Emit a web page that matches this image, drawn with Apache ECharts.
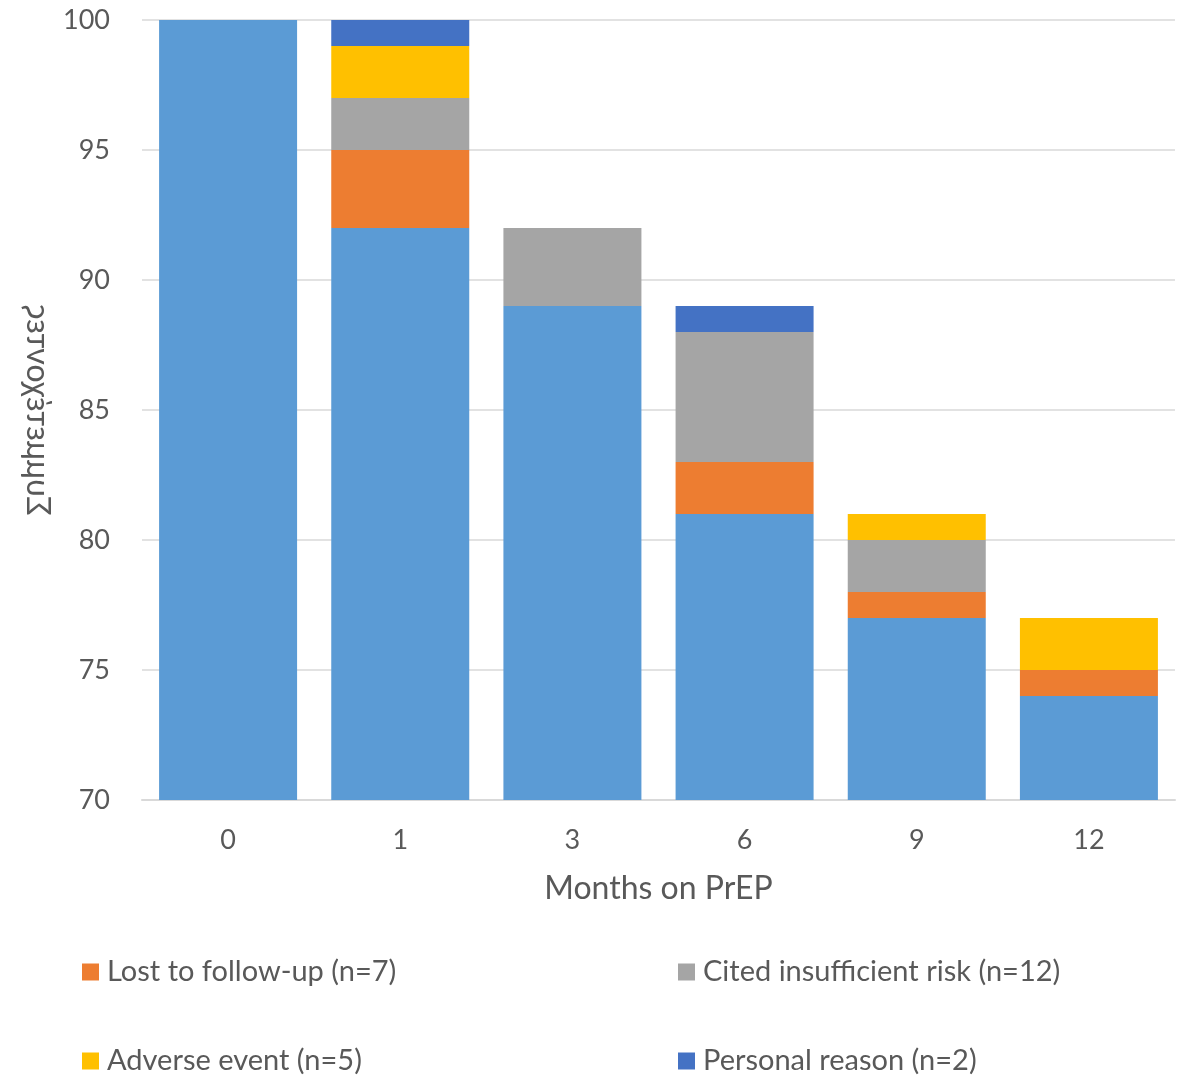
<!DOCTYPE html>
<html>
<head>
<meta charset="utf-8">
<script src="https://cdn.jsdelivr.net/npm/echarts@6/dist/echarts.min.js"></script>
<style>html,body{margin:0;padding:0;background:#fff}#c{width:1179px;height:1076px}</style>
</head>
<body>
<div id="c"></div>
<script>
const categories = ['0', '1', '3', '6', '9', '12'];
const remaining = [100, 92, 89, 81, 77, 74];
const lostToFollowUp = [0, 3, 0, 2, 1, 1];
const insufficientRisk = [0, 2, 3, 5, 2, 0];
const adverseEvent = [0, 2, 0, 0, 1, 2];
const personalReason = [0, 1, 0, 1, 0, 0];
const seriesNames = ['Lost to follow-up (n=7)', 'Cited insufficient risk (n=12)', 'Adverse event (n=5)', 'Personal reason (n=2)'];
const yTitle = 'Συμμετέχοντες';
const xTitle = 'Months on PrEP';

const FONT = 'Lato, "Open Sans", sans-serif';
const TXT = '#595959';
const colors = ['#5B9BD5', '#ED7D31', '#A5A5A5', '#FFC000', '#4472C4'];

const chart = echarts.init(document.getElementById('c'));
function legendAt(name, left, top) {
  return {
    data: [name], left: left, top: top, orient: 'horizontal',
    itemWidth: 17, itemHeight: 17, itemGap: 0, padding: 0,
    icon: 'rect', selectedMode: false,
    textStyle: { fontFamily: FONT, fontSize: 29, lineHeight: 30, color: TXT, padding: [0, 0, 0, 3] }
  };
}
const mk = (name, data, color) => ({
  name: name, type: 'bar', stack: 'total', data: data, barWidth: 138,
  itemStyle: { color: color }, emphasis: { disabled: true }
});
chart.setOption({
  animation: false,
  color: colors,
  grid: { left: 142, right: 4, top: 20, bottom: 276 },
  legend: [
    legendAt(seriesNames[0], 82, 957),
    legendAt(seriesNames[1], 678, 957),
    legendAt(seriesNames[2], 82, 1046),
    legendAt(seriesNames[3], 678, 1046)
  ],
  xAxis: {
    type: 'category', data: categories,
    axisLine: { lineStyle: { color: '#D9D9D9', width: 2 } },
    axisTick: { show: false },
    axisLabel: { fontFamily: FONT, fontSize: 27, color: TXT, margin: 27 },
    name: xTitle, nameLocation: 'middle', nameGap: 73,
    nameTextStyle: { fontFamily: FONT, fontSize: 32, color: TXT }
  },
  yAxis: {
    type: 'value', min: 70, max: 100, interval: 5,
    axisLine: { show: false }, axisTick: { show: false },
    splitLine: { lineStyle: { color: '#D9D9D9', width: 1.5 } },
    axisLabel: { fontFamily: FONT, fontSize: 27, color: TXT, margin: 32 }
  },
  graphic: [{
    type: 'text', x: 37, y: 410, rotation: Math.PI / 2, scaleX: 1, scaleY: -1,
    style: { text: yTitle, fontFamily: FONT, fontSize: 32, fill: TXT, align: 'center', verticalAlign: 'middle' }
  }],
  series: [
    { name: 'Remaining', type: 'bar', stack: 'total', data: remaining, barWidth: 138,
      itemStyle: { color: colors[0] }, emphasis: { disabled: true } },
    mk(seriesNames[0], lostToFollowUp, colors[1]),
    mk(seriesNames[1], insufficientRisk, colors[2]),
    mk(seriesNames[2], adverseEvent, colors[3]),
    mk(seriesNames[3], personalReason, colors[4])
  ]
});
</script>
</body>
</html>
